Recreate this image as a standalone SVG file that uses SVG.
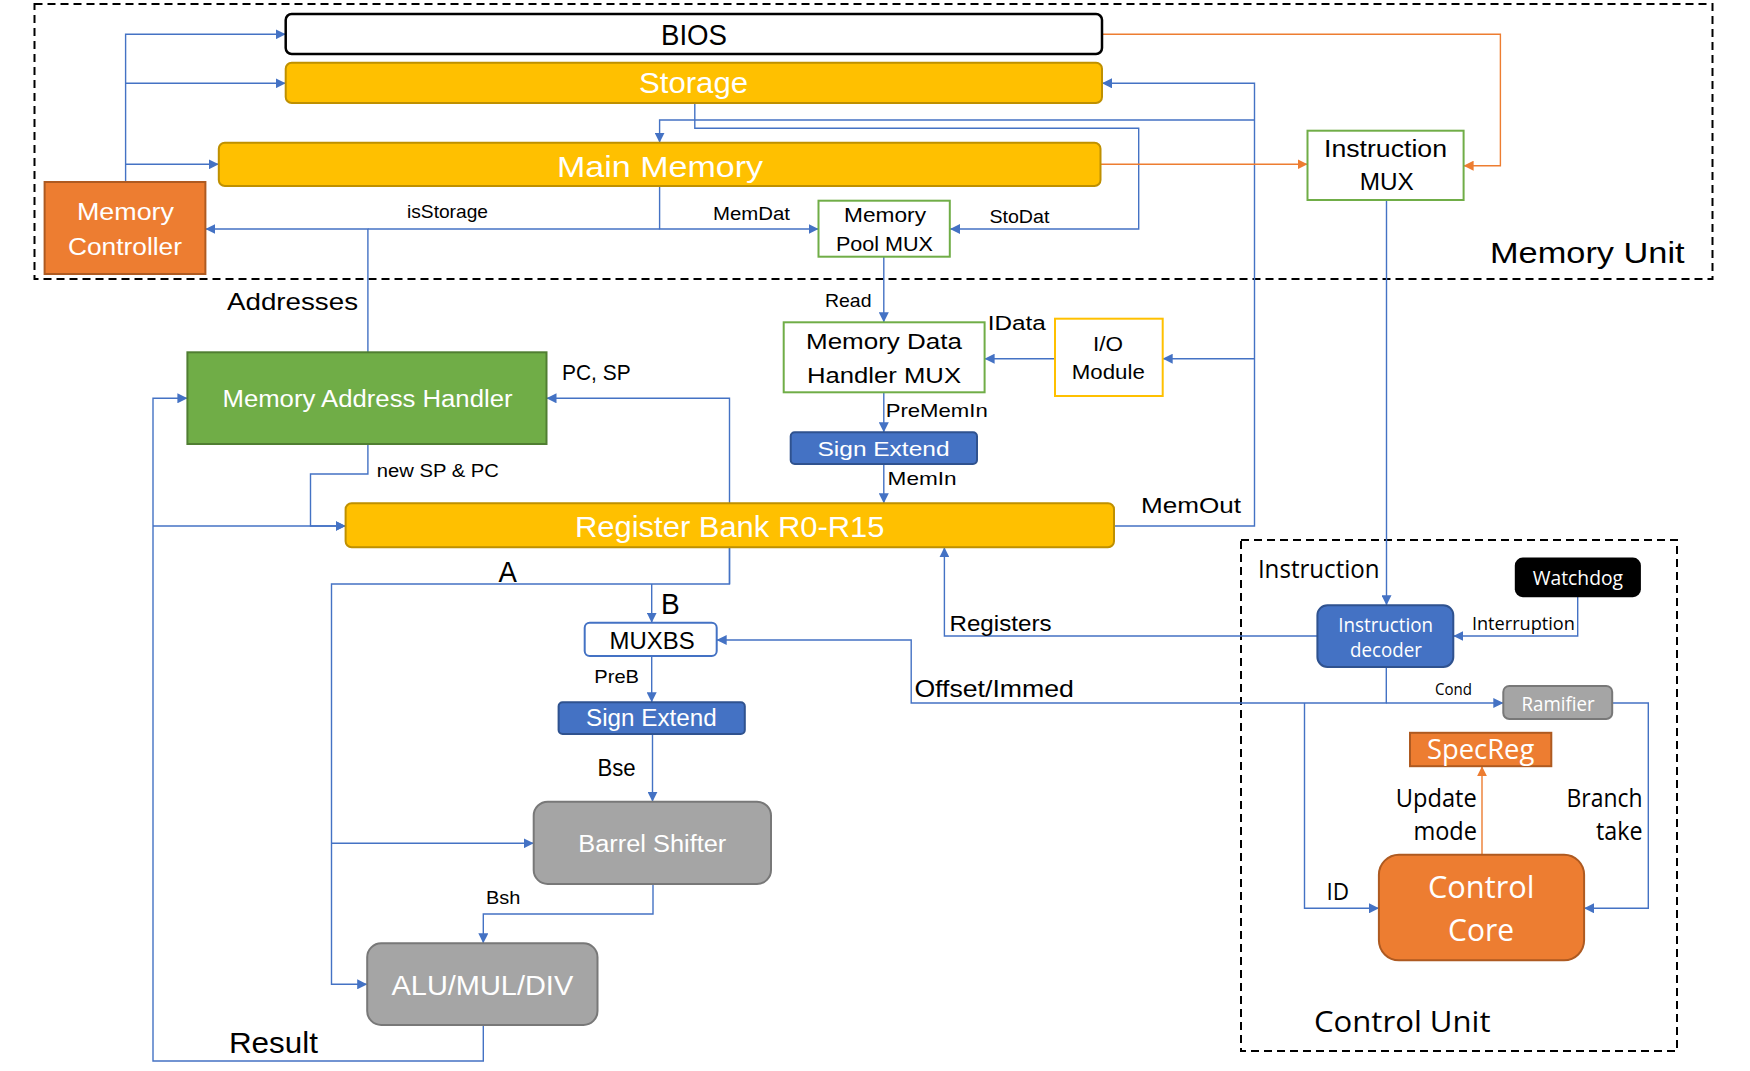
<svg xmlns="http://www.w3.org/2000/svg" width="1750" height="1071" viewBox="0 0 1750 1071">
<defs>
<marker id="ab" viewBox="0 0 10 10" refX="10" refY="5" markerWidth="10" markerHeight="10" markerUnits="userSpaceOnUse" orient="auto"><path d="M0,0 L10,5 L0,10 z" fill="#4472C4"/></marker>
<marker id="ao" viewBox="0 0 10 10" refX="10" refY="5" markerWidth="10" markerHeight="10" markerUnits="userSpaceOnUse" orient="auto"><path d="M0,0 L10,5 L0,10 z" fill="#ED7D31"/></marker>
</defs>
<style>
.c{fill:none;stroke:#4472C4;stroke-width:1.4}
.ca{fill:none;stroke:#4472C4;stroke-width:1.4;marker-end:url(#ab)}
.co{fill:none;stroke:#ED7D31;stroke-width:1.4;marker-end:url(#ao)}
.dash{fill:none;stroke:#000;stroke-width:2;stroke-dasharray:8 5}
.gold{fill:#FFC000;stroke:#BF9000;stroke-width:2}
.orng{fill:#ED7D31;stroke:#AE5A21;stroke-width:2}
.grn{fill:#70AD47;stroke:#507E32;stroke-width:2}
.gro{fill:#fff;stroke:#70AD47;stroke-width:2}
.blu{fill:#4472C4;stroke:#2F528F;stroke-width:2}
.gry{fill:#A5A5A5;stroke:#787878;stroke-width:2}
text{font-family:"Liberation Sans",Arial,sans-serif;fill:#000}
.w{fill:#fff}
.s{font-family:"Open Sans","Noto Sans",sans-serif}
</style>
<rect width="1750" height="1071" fill="#fff"/>
<rect class="dash" x="34.5" y="4" width="1678" height="275"/>
<rect class="dash" x="1241" y="540" width="436" height="511"/>
<g id="connectors">
<path class="ca" d="M125.6,182 V34.3 H285.7"/>
<path class="ca" d="M125.6,83.3 H285.7"/>
<path class="ca" d="M125.6,164.3 H218.8"/>
<path class="ca" d="M367.9,352.3 V229 H205.4"/>
<path class="c" d="M367.9,229 H659.6"/>
<path class="ca" d="M659.6,186 V229 H818.5"/>
<path class="ca" d="M694.8,103 V128.3 H1138.7 V229 H950"/>
<path class="ca" d="M1114,526 H1254.5 V83.3 H1102"/>
<path class="ca" d="M1254.5,120 H659.6 V142.7"/>
<path class="ca" d="M1254.5,358.7 H1162.7"/>
<path class="co" d="M1102,34.3 H1500.4 V165.7 H1463.6"/>
<path class="co" d="M1100.5,164.3 H1307.5"/>
<path class="ca" d="M883.8,256.7 V322.3"/>
<path class="ca" d="M1055,358.7 H984.6"/>
<path class="ca" d="M883.8,392.3 V432.3"/>
<path class="ca" d="M883.8,464 V503.3"/>
<path class="ca" d="M729.5,584 V398.3 H546.5"/>
<path class="ca" d="M729.5,547 V584 H331.5 V984.3 H367.2"/>
<path class="ca" d="M331.5,843.3 H533.7"/>
<path class="ca" d="M651.7,584 V622.7"/>
<path class="ca" d="M367.9,444 V474 H310.5 V526 H345.6"/>
<path class="ca" d="M483.3,1025 V1061 H153 V398.3 H187.4"/>
<path class="ca" d="M153,526 H345.6"/>
<path class="ca" d="M651.7,656 V702.3"/>
<path class="ca" d="M652.5,734 V801.7"/>
<path class="ca" d="M653,884 V914 H483.3 V943.3"/>
<path class="ca" d="M1386.3,667 V703 H911.2 V640 H716.7"/>
<path class="ca" d="M1386.3,703 H1503.3"/>
<path class="ca" d="M1304.5,703 V908.3 H1379"/>
<path class="ca" d="M1317.4,636 H944.4 V547.3"/>
<path class="ca" d="M1577.7,597 V636 H1453.3"/>
<path class="ca" d="M1612.2,703 H1648.3 V908.3 H1584.1"/>
<path class="co" d="M1482,855 V766.2"/>
<path class="ca" d="M1386.5,200 V605.2"/>
</g>
<g id="bios"><rect x="285.7" y="14" width="816.3" height="40" rx="6" fill="#fff" stroke="#000" stroke-width="2.5"/><text x="661" y="45" font-size="30" textLength="66" lengthAdjust="spacingAndGlyphs">BIOS</text></g>
<g id="storage"><rect class="gold" x="285.7" y="62.7" width="816.3" height="40.3" rx="6"/><text class="w" x="639" y="93" font-size="30" textLength="109" lengthAdjust="spacingAndGlyphs">Storage</text></g>
<g id="main-memory"><rect class="gold" x="218.8" y="142.7" width="881.7" height="43.3" rx="6"/><text class="w" x="557" y="176.5" font-size="30" textLength="206" lengthAdjust="spacingAndGlyphs">Main Memory</text></g>
<g id="memory-controller"><rect class="orng" x="44.6" y="182" width="160.8" height="92"/><text class="w" x="77" y="220" font-size="23.3" textLength="97" lengthAdjust="spacingAndGlyphs">Memory</text><text class="w" x="68" y="255" font-size="23.3" textLength="114" lengthAdjust="spacingAndGlyphs">Controller</text></g>
<g id="memory-pool-mux"><rect class="gro" x="818.5" y="200.7" width="131.3" height="56"/><text x="844" y="221.7" font-size="19.5" textLength="82" lengthAdjust="spacingAndGlyphs">Memory</text><text x="836" y="250.7" font-size="19.5" textLength="97" lengthAdjust="spacingAndGlyphs">Pool MUX</text></g>
<g id="instruction-mux"><rect class="gro" x="1307.5" y="130.7" width="156.1" height="69.3"/><text x="1324" y="156.7" font-size="23" textLength="123" lengthAdjust="spacingAndGlyphs">Instruction</text><text x="1359.7" y="190" font-size="23" textLength="54" lengthAdjust="spacingAndGlyphs">MUX</text></g>
<g id="memory-address-handler"><rect class="grn" x="187.4" y="352.3" width="359.1" height="91.7"/><text class="w" x="222.5" y="406.7" font-size="23" textLength="290" lengthAdjust="spacingAndGlyphs">Memory Address Handler</text></g>
<g id="memory-data-handler-mux"><rect class="gro" x="783.7" y="322.3" width="200.9" height="70"/><text x="806" y="349.3" font-size="22" textLength="156" lengthAdjust="spacingAndGlyphs">Memory Data</text><text x="807" y="382.7" font-size="22" textLength="154" lengthAdjust="spacingAndGlyphs">Handler MUX</text></g>
<g id="io-module"><rect x="1055" y="318.7" width="107.7" height="77.3" fill="#fff" stroke="#FFC000" stroke-width="2"/><text x="1093" y="351" font-size="21" textLength="30" lengthAdjust="spacingAndGlyphs">I/O</text><text x="1071.8" y="379.3" font-size="20" textLength="73" lengthAdjust="spacingAndGlyphs">Module</text></g>
<g id="sign-extend-1"><rect class="blu" x="790.7" y="432.3" width="186.3" height="31.7" rx="4"/><text class="w" x="817.5" y="455.7" font-size="21" textLength="132" lengthAdjust="spacingAndGlyphs">Sign Extend</text></g>
<g id="register-bank"><rect class="gold" x="345.6" y="503.3" width="768.4" height="44" rx="6"/><text class="w" x="575" y="536.7" font-size="29" textLength="309.5" lengthAdjust="spacingAndGlyphs">Register Bank R0-R15</text></g>
<g id="muxbs"><rect x="584.7" y="622.7" width="132" height="33.3" rx="5" fill="#fff" stroke="#4472C4" stroke-width="2"/><text x="609.6" y="649" font-size="24" textLength="85" lengthAdjust="spacingAndGlyphs">MUXBS</text></g>
<g id="sign-extend-2"><rect class="blu" x="558.6" y="702.3" width="186.2" height="31.7" rx="4"/><text class="w" x="586" y="725.7" font-size="23" textLength="130.7" lengthAdjust="spacingAndGlyphs">Sign Extend</text></g>
<g id="barrel-shifter"><rect class="gry" x="533.7" y="801.7" width="237.3" height="82.3" rx="14"/><text class="w" x="578.3" y="851.7" font-size="23" textLength="148" lengthAdjust="spacingAndGlyphs">Barrel Shifter</text></g>
<g id="alu"><rect class="gry" x="367.2" y="943.3" width="230.3" height="81.7" rx="14"/><text class="w" x="391.5" y="995" font-size="27" textLength="181.7" lengthAdjust="spacingAndGlyphs">ALU/MUL/DIV</text></g>
<g id="instruction-decoder"><rect class="blu" x="1317.4" y="605.2" width="135.9" height="61.7" rx="10"/><text class="w s" x="1338.3" y="631.7" font-size="20" textLength="94.7" lengthAdjust="spacingAndGlyphs">Instruction</text><text class="w s" x="1350" y="656.9" font-size="20" textLength="71.8" lengthAdjust="spacingAndGlyphs">decoder</text></g>
<g id="watchdog"><rect x="1514.8" y="557.6" width="126.1" height="39.6" rx="8" fill="#000"/><text class="w s" x="1532.7" y="585.2" font-size="20" textLength="90.3" lengthAdjust="spacingAndGlyphs">Watchdog</text></g>
<g id="ramifier"><rect class="gry" x="1503.3" y="685.9" width="108.9" height="33.1" rx="6"/><text class="w s" x="1521.6" y="711" font-size="20" textLength="73" lengthAdjust="spacingAndGlyphs">Ramifier</text></g>
<g id="specreg"><rect class="orng" x="1410" y="732.8" width="141.3" height="33.4"/><text class="w s" x="1426.9" y="759.3" font-size="27.5" textLength="107.5" lengthAdjust="spacingAndGlyphs">SpecReg</text></g>
<g id="control-core"><rect class="orng" x="1378.9" y="854.8" width="205.2" height="105.5" rx="20"/><text class="w s" x="1428" y="898.3" font-size="31" textLength="106.5" lengthAdjust="spacingAndGlyphs">Control</text><text class="w s" x="1448" y="941" font-size="31" textLength="66" lengthAdjust="spacingAndGlyphs">Core</text></g>
<g id="labels">
<text x="407" y="218.3" font-size="17.7" textLength="81" lengthAdjust="spacingAndGlyphs">isStorage</text>
<text x="713" y="220" font-size="18" textLength="77" lengthAdjust="spacingAndGlyphs">MemDat</text>
<text x="989.4" y="223.3" font-size="18" textLength="60" lengthAdjust="spacingAndGlyphs">StoDat</text>
<text x="1490" y="263.3" font-size="29" textLength="194.6" lengthAdjust="spacingAndGlyphs">Memory Unit</text>
<text x="227" y="310" font-size="24" textLength="131" lengthAdjust="spacingAndGlyphs">Addresses</text>
<text x="562" y="380" font-size="22" textLength="68.6" lengthAdjust="spacingAndGlyphs">PC, SP</text>
<text x="376.8" y="476.7" font-size="18" textLength="122" lengthAdjust="spacingAndGlyphs">new SP &amp; PC</text>
<text x="825" y="306.7" font-size="19" textLength="46.5" lengthAdjust="spacingAndGlyphs">Read</text>
<text x="987.8" y="330" font-size="20" textLength="58" lengthAdjust="spacingAndGlyphs">IData</text>
<text x="1141" y="512.7" font-size="22" textLength="100" lengthAdjust="spacingAndGlyphs">MemOut</text>
<text x="885.7" y="416.7" font-size="18.6" textLength="102" lengthAdjust="spacingAndGlyphs">PreMemIn</text>
<text x="887.6" y="485" font-size="18.6" textLength="69" lengthAdjust="spacingAndGlyphs">MemIn</text>
<text x="498.6" y="582.3" font-size="29" textLength="18.4" lengthAdjust="spacingAndGlyphs">A</text>
<text x="661" y="614" font-size="29" textLength="18.7" lengthAdjust="spacingAndGlyphs">B</text>
<text x="594.3" y="683.3" font-size="18.6" textLength="44.7" lengthAdjust="spacingAndGlyphs">PreB</text>
<text x="597.5" y="775.7" font-size="23" textLength="38.2" lengthAdjust="spacingAndGlyphs">Bse</text>
<text x="485.9" y="904.3" font-size="18" textLength="34.4" lengthAdjust="spacingAndGlyphs">Bsh</text>
<text x="228.9" y="1052.7" font-size="29" textLength="89" lengthAdjust="spacingAndGlyphs">Result</text>
<text x="914.4" y="696.7" font-size="24" textLength="159.5" lengthAdjust="spacingAndGlyphs">Offset/Immed</text>
<text x="949.5" y="631" font-size="22" textLength="102" lengthAdjust="spacingAndGlyphs">Registers</text>
<text class="s" x="1257.9" y="578.3" font-size="25" textLength="121.7" lengthAdjust="spacingAndGlyphs">Instruction</text>
<text class="s" x="1471.9" y="630" font-size="18" textLength="103" lengthAdjust="spacingAndGlyphs">Interruption</text>
<text class="s" x="1435" y="694.8" font-size="16" textLength="37" lengthAdjust="spacingAndGlyphs">Cond</text>
<text class="s" x="1395.8" y="806.9" font-size="24.6" textLength="81" lengthAdjust="spacingAndGlyphs">Update</text>
<text class="s" x="1413.4" y="840.3" font-size="24.6" textLength="63.6" lengthAdjust="spacingAndGlyphs">mode</text>
<text class="s" x="1566.5" y="806.9" font-size="24.6" textLength="76" lengthAdjust="spacingAndGlyphs">Branch</text>
<text class="s" x="1596" y="840.3" font-size="24.6" textLength="46.6" lengthAdjust="spacingAndGlyphs">take</text>
<text class="s" x="1326.5" y="900" font-size="24" textLength="22.6" lengthAdjust="spacingAndGlyphs">ID</text>
<text class="s" x="1314" y="1031.7" font-size="30" textLength="176.5" lengthAdjust="spacingAndGlyphs">Control Unit</text>
</g>
</svg>
